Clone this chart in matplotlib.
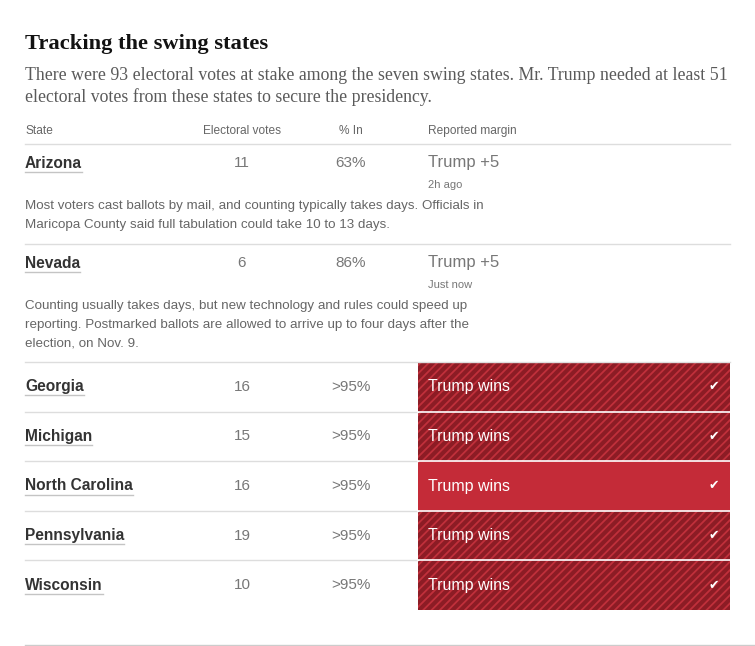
import matplotlib.pyplot as plt
import matplotlib.patches as mpatches

# DATA
title = "Tracking the swing states"
subtitle = ["There were 93 electoral votes at stake among the seven swing states. Mr. Trump needed at least 51",
            "electoral votes from these states to secure the presidency."]
headers = ["State", "Electoral votes", "% In", "Reported margin"]

# counting states (with notes)
open_states = ["Arizona", "Nevada"]
open_votes = [11, 6]
open_pct = ["63%", "86%"]
open_margin = ["Trump +5", "Trump +5"]
open_updated = ["2h ago", "Just now"]
open_notes = [["Most voters cast ballots by mail, and counting typically takes days. Officials in",
               "Maricopa County said full tabulation could take 10 to 13 days."],
              ["Counting usually takes days, but new technology and rules could speed up",
               "reporting. Postmarked ballots are allowed to arrive up to four days after the",
               "election, on Nov. 9."]]

# called states
called_states = ["Georgia", "Michigan", "North Carolina", "Pennsylvania", "Wisconsin"]
called_votes = [16, 15, 16, 19, 10]
called_pct = [">95%", ">95%", ">95%", ">95%", ">95%"]
called_result = ["Trump wins"] * 5
called_hatched = [True, True, False, True, True]

plt.rcParams['hatch.linewidth'] = 1.3
SANS = ['Liberation Sans', 'DejaVu Sans']
SERIF = ['Liberation Serif', 'DejaVu Serif']

fig = plt.figure(figsize=(7.55, 6.46), dpi=100)
ax = fig.add_axes([0, 0, 1, 1])
ax.set_xlim(0, 755)
ax.set_ylim(646, 0)
ax.axis('off')

X0, X1 = 25, 730
XV, XP, XM = 242, 351, 428

# title / subtitle
ax.text(X0, 44, title, family=SERIF, weight='bold', fontsize=16.2, color='#121212', va='center')
for i, line in enumerate(subtitle):
    ax.text(X0, 76 + i * 21, line, family=SERIF, fontsize=12.8, color='#5a5a5a', va='center')

# header
hc = '#666666'
ax.text(X0, 131, headers[0], family=SANS, fontsize=8.6, color=hc, va='center')
ax.text(XV, 131, headers[1], family=SANS, fontsize=8.6, color=hc, va='center', ha='center')
ax.text(XP, 131, headers[2], family=SANS, fontsize=8.6, color=hc, va='center', ha='center')
ax.text(XM, 131, headers[3], family=SANS, fontsize=8.6, color=hc, va='center')
ax.plot([X0, X1], [144, 144], color='#dddddd', lw=1)

names = []

# open states
row_tops = [144, 244]
row_bots = [244, 362]
for i, s in enumerate(open_states):
    y = row_tops[i] + 19
    names.append((ax.text(X0, y, s, family=SANS, weight='bold', fontsize=11.2, color='#333333', va='center'), y))
    ax.text(XV, y, str(open_votes[i]), family=SANS, fontsize=11, color='#777777', va='center', ha='center')
    ax.text(XP, y, open_pct[i], family=SANS, fontsize=11, color='#777777', va='center', ha='center')
    ax.text(XM, y, open_margin[i], family=SANS, fontsize=12, color='#777777', va='center')
    ax.text(XM, y + 22, open_updated[i], family=SANS, fontsize=8, color='#777777', va='center')
    for j, line in enumerate(open_notes[i]):
        ax.text(X0, y + 43 + j * 19, line, family=SANS, fontsize=9.6, color='#666666', va='center')
    ax.plot([X0, X1], [row_bots[i], row_bots[i]], color='#dddddd', lw=1)

# called states
top = 362
h = 49.6
for i, s in enumerate(called_states):
    y0 = top + i * h
    yc = y0 + h / 2
    names.append((ax.text(X0, yc, s, family=SANS, weight='bold', fontsize=11.2, color='#333333', va='center'), yc))
    ax.text(XV, yc, str(called_votes[i]), family=SANS, fontsize=11, color='#777777', va='center', ha='center')
    ax.text(XP, yc, called_pct[i], family=SANS, fontsize=11, color='#777777', va='center', ha='center')
    if called_hatched[i]:
        box = mpatches.Rectangle((418, y0), X1 - 418, h, facecolor='#8c1c25',
                                 edgecolor='#c0303b', hatch='////', lw=0)
    else:
        box = mpatches.Rectangle((418, y0), X1 - 418, h, facecolor='#c42b38', lw=0)
    ax.add_patch(box)
    ax.text(XM, yc, called_result[i], family=SANS, fontsize=11.5, color='white', va='center')
    ax.text(714, yc, '\u2714', family=['DejaVu Sans'], fontsize=9, color='white', va='center', ha='center')
    if i > 0:
        ax.plot([X0, 418], [y0, y0], color='#dddddd', lw=1)
        ax.plot([418, X1], [y0, y0], color='white', lw=1.2)

ax.plot([X0, 755], [645, 645], color='#cccccc', lw=1)

# underline state names
fig.canvas.draw()
r = fig.canvas.get_renderer()
inv = ax.transData.inverted()
for t, y in names:
    bb = t.get_window_extent(renderer=r)
    (xa, _), (xb, _) = inv.transform([(bb.x0, bb.y0), (bb.x1, bb.y1)])
    ax.plot([xa, xb], [y + 8.5, y + 8.5], color='#c4c4c4', lw=1)

fig.savefig('out.png', dpi=100, facecolor='white')
